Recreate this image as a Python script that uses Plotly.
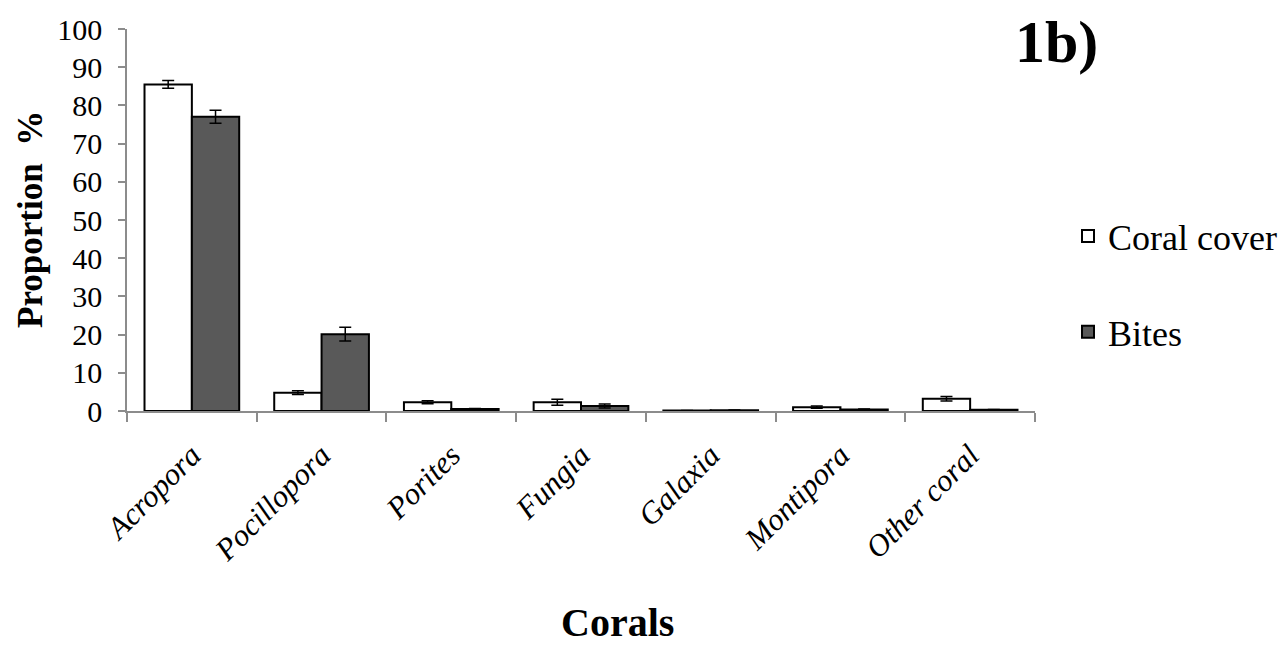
import plotly.graph_objects as go

categories = ["Acropora", "Pocillopora", "Porites", "Fungia", "Galaxia", "Montipora", "Other coral"]
cover = [85.5, 4.8, 2.3, 2.3, 0.1, 1.0, 3.2]
cover_err = [1.0, 0.5, 0.4, 0.8, 0.05, 0.3, 0.6]
bites = [77.0, 20.1, 0.5, 1.3, 0.2, 0.4, 0.3]
bites_err = [1.7, 1.8, 0.15, 0.5, 0.05, 0.1, 0.1]
yticks = [0, 10, 20, 30, 40, 50, 60, 70, 80, 90, 100]

FONT = "Liberation Serif"
W, H = 1285, 645
L, R, T, B = 127, 250, 29, 234
PW = W - L - R
PH = H - T - B

fig = go.Figure()
fig.add_trace(go.Bar(
    x=categories, y=cover, name="Coral cover", legendgroup="a",
    marker=dict(color="white", line=dict(color="black", width=2)),
    error_y=dict(type="data", array=cover_err, color="black", thickness=1.5, width=6),
))
fig.add_trace(go.Bar(
    x=categories, y=bites, name="Bites", legendgroup="b",
    marker=dict(color="#595959", line=dict(color="black", width=2)),
    error_y=dict(type="data", array=bites_err, color="black", thickness=1.5, width=6),
))

fig.update_layout(
    width=W, height=H,
    margin=dict(l=L, r=R, t=T, b=B, pad=0, autoexpand=False),
    paper_bgcolor="white", plot_bgcolor="white",
    barmode="group", bargap=0.27, bargroupgap=0,
    font=dict(family=FONT, color="black"),
    showlegend=True,
    legend=dict(x=(1068 - L) / PW, y=1 - (284 - T) / PH, xanchor="left", yanchor="middle",
                font=dict(family=FONT, size=36, color="black"),
                tracegroupgap=46, itemwidth=30, bgcolor="rgba(0,0,0,0)"),
    xaxis=dict(showline=True, linecolor="#8c8c8c", linewidth=1.5,
               ticks="outside", tickson="boundaries", ticklen=9, tickcolor="#8c8c8c", tickwidth=1.5,
               tickangle=-45, ticklabelstandoff=12,
               tickfont=dict(family=FONT, size=31, color="black", style="italic"),
               showgrid=False, zeroline=False),
    yaxis=dict(range=[0, 100], tickvals=yticks, showline=True, linecolor="#8c8c8c", linewidth=1.5,
               ticks="outside", ticklen=7, tickcolor="#8c8c8c", tickwidth=1.5, ticklabelstandoff=10,
               tickfont=dict(family=FONT, size=30, color="black"),
               showgrid=False, zeroline=False),
    annotations=[
        dict(text="<b>Proportion  %</b>", xref="paper", yref="paper", x=(30 - L) / PW, y=0.5,
             xanchor="center", yanchor="middle", textangle=-90, showarrow=False,
             font=dict(family=FONT, size=35, color="black")),
        dict(text="<b>Corals</b>", xref="paper", yref="paper", x=(617 - L) / PW, y=-(622 - (H - B)) / PH,
             xanchor="center", yanchor="middle", showarrow=False,
             font=dict(family=FONT, size=40, color="black")),
        dict(text="<b>1b)</b>", xref="paper", yref="paper", x=(1056 - L) / PW, y=1 - (42 - T) / PH,
             xanchor="center", yanchor="middle", showarrow=False,
             font=dict(family=FONT, size=60, color="black")),
    ],
)

fig.write_html("out.html", config={"displayModeBar": False},
               post_script="document.body.style.margin='0';document.body.style.overflow='hidden';")
